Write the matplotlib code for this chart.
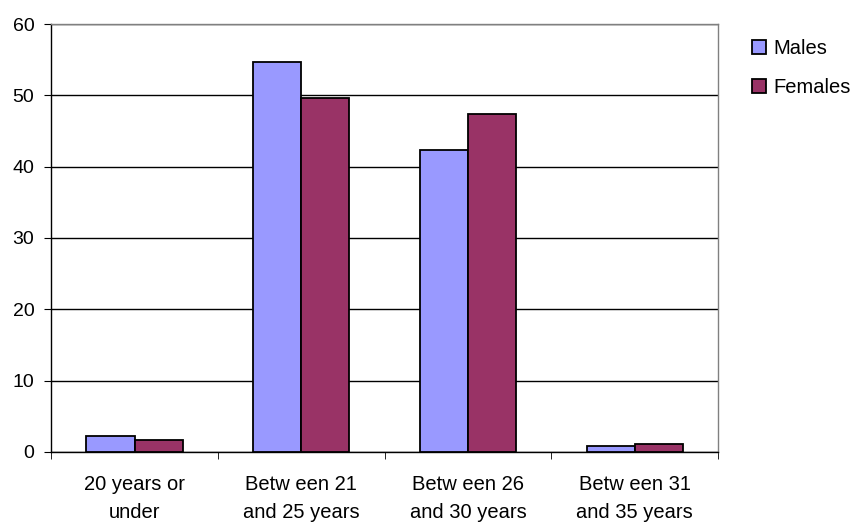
import matplotlib
matplotlib.use("Agg")
import matplotlib.pyplot as plt
import numpy as np

plt.rcParams['font.family'] = ['Liberation Sans', 'DejaVu Sans']

categories = ["20 years or\nunder", "Betw een 21\nand 25 years",
              "Betw een 26\nand 30 years", "Betw een 31\nand 35 years"]
males = [2.2, 54.7, 42.3, 0.8]
females = [1.6, 49.6, 47.4, 1.1]
yticks = [0, 10, 20, 30, 40, 50, 60]

male_col = "#9999FF"
female_col = "#993366"

fig = plt.figure(figsize=(8.52, 5.23), dpi=100)
ax = fig.add_axes([0.060, 0.136, 0.783, 0.818])

x = np.arange(len(categories))
w = 0.288
ax.bar(x - w / 2, males, w, color=male_col, edgecolor="black", linewidth=1.3, label="Males", zorder=3)
ax.bar(x + w / 2, females, w, color=female_col, edgecolor="black", linewidth=1.3, label="Females", zorder=3)

ax.set_xlim(-0.5, len(categories) - 0.5)
ax.set_ylim(0, 60)
ax.set_yticks(yticks)
ax.set_yticklabels([str(v) for v in yticks], fontsize=14)
ax.yaxis.grid(True, color="black", linewidth=1)
ax.set_axisbelow(True)

# category labels centred, tick marks at the boundaries
ax.set_xticks(x)
ax.set_xticklabels(categories, fontsize=14.5, linespacing=1.6)
ax.tick_params(axis="x", length=0, pad=17)
ax.set_xticks(np.arange(-0.5, len(categories)), minor=True)
ax.tick_params(axis="x", which="minor", length=5, direction="out", color="black")
ax.tick_params(axis="y", length=5, direction="out", color="black", pad=7)

for s in ["left", "bottom"]:
    ax.spines[s].set_color("black")
    ax.spines[s].set_linewidth(1)
for s in ["top", "right"]:
    ax.spines[s].set_color("#808080")
    ax.spines[s].set_linewidth(1)

ax.legend(loc="upper left", bbox_to_anchor=(0.8826, 0.925), bbox_transform=fig.transFigure,
          frameon=False, fontsize=14.5, handlelength=0.7, handleheight=0.7,
          handletextpad=0.35, labelspacing=1.0, borderpad=0, borderaxespad=0)

fig.savefig("out.png", dpi=100)
